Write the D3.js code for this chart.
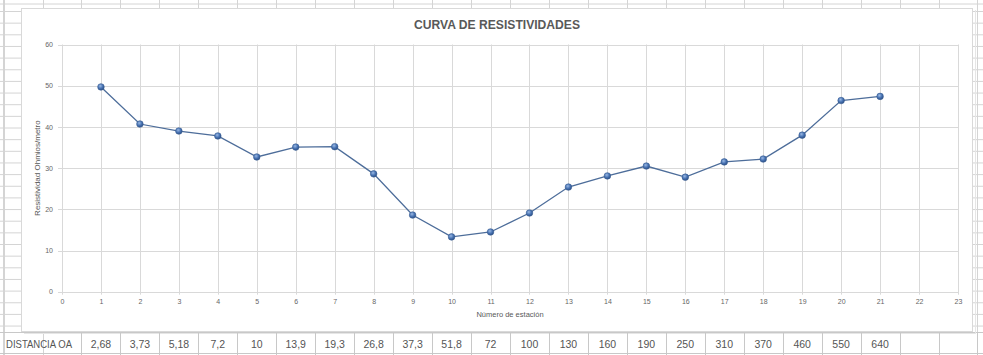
<!DOCTYPE html>
<html>
<head>
<meta charset="utf-8">
<script src="https://cdn.jsdelivr.net/npm/d3@7"></script>
<style>
html,body{margin:0;padding:0;background:#fff;}
svg{display:block;}
</style>
</head>
<body>
<svg id="c" width="983" height="355"></svg>
<script>
// ---- data ----
const stations = [1,2,3,4,5,6,7,8,9,10,11,12,13,14,15,16,17,18,19,20,21];
const resistivity = [49.7,40.7,39.0,37.8,32.7,35.1,35.2,28.6,18.6,13.3,14.5,19.1,25.4,28.1,30.5,27.8,31.5,32.2,38.0,46.4,47.4];
const distances = ["2,68","3,73","5,18","7,2","10","13,9","19,3","26,8","37,3","51,8","72","100","130","160","190","250","310","370","460","550","640"];
const xTicks = [0,1,2,3,4,5,6,7,8,9,10,11,12,13,14,15,16,17,18,19,20,21,22,23];
const yTicks = [0,10,20,30,40,50,60];
const title = "CURVA DE RESISTIVIDADES";
const xTitle = "Número de estación";
const yTitle = "Resistividad Ohmios/metro";
const rowLabel = "DISTANCIA OA";

const svg = d3.select("#c");
const W = 983, H = 355;

const x = d3.scaleLinear().domain([0,23]).range([62,958]);
const y = d3.scaleLinear().domain([0,60]).range([291.7,44.5]);
const colW = x(1) - x(0);

// ---- spreadsheet background grid ----
const sheetColor = "#d4d4d4";
const colLines = d3.range(-1, 26).map(k => x(k) - colW/2);
const rowLines = [3.5].concat(d3.range(0, 28).map(k => 11 + 11.65*k).filter(v => v < 330));
const bg = svg.append("g");
bg.selectAll("line.r").data(rowLines).join("line")
  .attr("x1",0).attr("x2",W).attr("y1",d=>d+0.5).attr("y2",d=>d+0.5)
  .attr("stroke",sheetColor).attr("stroke-width",1);
bg.selectAll("line.c").data(colLines).join("line")
  .attr("y1",0).attr("y2",H).attr("x1",d=>Math.round(d)+0.5).attr("x2",d=>Math.round(d)+0.5)
  .attr("stroke",sheetColor).attr("stroke-width",1);
bg.append("line").attr("x1",3.5).attr("x2",3.5).attr("y1",0).attr("y2",H).attr("stroke",sheetColor);
// table row lines
[332.5, 353.5].forEach(v => bg.append("line").attr("x1",0).attr("x2",W).attr("y1",v).attr("y2",v).attr("stroke","#c8c8c8"));

// ---- chart area ----
svg.append("rect").attr("x",21.5).attr("y",8.5).attr("width",951).attr("height",323)
  .attr("fill","#fff").attr("stroke","#d9d9d9").attr("stroke-width",1);
svg.append("line").attr("x1",975.5).attr("x2",975.5).attr("y1",10).attr("y2",334).attr("stroke","#e6e6e6");
svg.append("line").attr("x1",24).attr("x2",975.5).attr("y1",333.5).attr("y2",333.5).attr("stroke","#e6e6e6");

// gridlines
const gridColor = "#d9d9d9";
const g = svg.append("g");
g.selectAll("line.h").data(yTicks).join("line")
  .attr("x1",x(0)-4).attr("x2",x(23)).attr("y1",d=>Math.round(y(d))+0.5).attr("y2",d=>Math.round(y(d))+0.5)
  .attr("stroke",gridColor);
g.selectAll("line.v").data(xTicks).join("line")
  .attr("y1",y(60)).attr("y2",y(0)+3).attr("x1",d=>Math.round(x(d))+0.5).attr("x2",d=>Math.round(x(d))+0.5)
  .attr("stroke",gridColor);

// axes labels via d3 axes
const yAxis = d3.axisLeft(y).tickValues(yTicks).tickSize(0).tickPadding(9);
const ya = svg.append("g").attr("transform",`translate(${x(0)},0)`).call(yAxis);
const xAxis = d3.axisBottom(x).tickValues(xTicks).tickSize(0).tickPadding(7);
const xa = svg.append("g").attr("transform",`translate(0,${y(0)})`).call(xAxis);
[ya, xa].forEach(a => {
  a.select(".domain").remove();
  a.selectAll("text").attr("fill","#666").style("font-family","'Liberation Sans', Arial, sans-serif").style("font-size","7px");
});

// title
svg.append("text").attr("x",497).attr("y",29).attr("text-anchor","middle")
  .attr("textLength",166).attr("lengthAdjust","spacingAndGlyphs")
  .style("font-family","'Liberation Sans',Arial,sans-serif")
  .style("font-size","13.5px").style("font-weight","bold").attr("fill","#595959").text(title);

// axis titles
svg.append("text").attr("x",(x(0)+x(23))/2).attr("y",317).attr("text-anchor","middle")
  .style("font-family","'Liberation Sans',Arial,sans-serif").style("font-size","7.5px")
  .attr("fill","#595959").text(xTitle);
svg.append("text").attr("transform",`translate(40,${(y(0)+y(60))/2}) rotate(-90)`).attr("text-anchor","middle")
  .style("font-family","'Liberation Sans',Arial,sans-serif").style("font-size","8px")
  .attr("fill","#595959").text(yTitle);

// gradient for markers
const defs = svg.append("defs");
const rg = defs.append("radialGradient").attr("id","mk").attr("cx","40%").attr("cy","35%").attr("r","65%");
rg.append("stop").attr("offset","0%").attr("stop-color","#9bb9e3");
rg.append("stop").attr("offset","55%").attr("stop-color","#4a75b5");
rg.append("stop").attr("offset","100%").attr("stop-color","#2c4f85");

// line
const pts = stations.map((s,i)=>({s, v: resistivity[i]}));
svg.append("path").datum(pts)
  .attr("d", d3.line().x(d=>x(d.s)).y(d=>y(d.v)))
  .attr("fill","none").attr("stroke","#4d6d9a").attr("stroke-width",1.3);
svg.append("g").selectAll("circle").data(pts).join("circle")
  .attr("cx",d=>x(d.s)).attr("cy",d=>y(d.v)).attr("r",3.3)
  .attr("fill","url(#mk)").attr("stroke","#3a5f96").attr("stroke-width",0.6);

// ---- table row ----
const t = svg.append("g").style("font-family","'Liberation Sans',Arial,sans-serif").style("font-size","10.5px").attr("fill","#555");
t.append("text").attr("x",6).attr("y",347.5).attr("textLength",66).attr("lengthAdjust","spacingAndGlyphs").text(rowLabel);
t.selectAll("text.v").data(stations).join("text").attr("class","v")
  .attr("x",d=>x(d)).attr("y",347.5).attr("text-anchor","middle").text((d,i)=>distances[i]);
// cell separators in the table row
const sepCols = colLines.filter(v => v > 70);
svg.append("g").selectAll("line").data(sepCols).join("line")
  .attr("x1",d=>Math.round(d)+0.5).attr("x2",d=>Math.round(d)+0.5).attr("y1",333).attr("y2",355)
  .attr("stroke","#c8c8c8");
</script>
</body>
</html>
